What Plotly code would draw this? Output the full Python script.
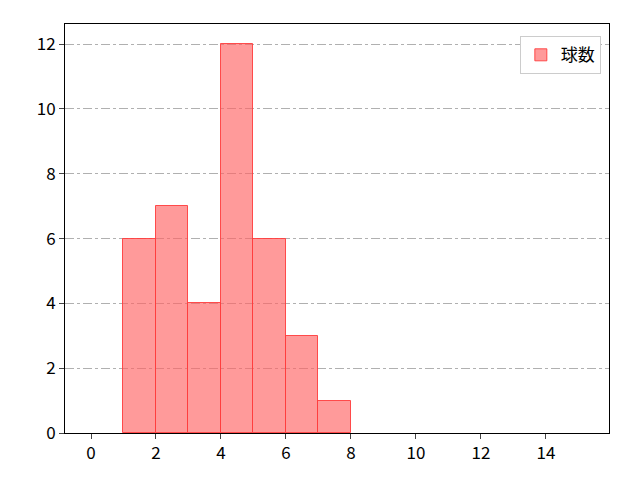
import plotly.graph_objects as go

bin_left = [1, 2, 3, 4, 5, 6, 7]
counts = [6, 7, 4, 12, 6, 3, 1]
xticks = [0, 2, 4, 6, 8, 10, 12, 14]
yticks = [0, 2, 4, 6, 8, 10, 12]

fig = go.Figure()
fig.add_trace(go.Bar(
    x=[b + 0.5 for b in bin_left], y=counts, width=1,
    name="球数", showlegend=True,
    marker=dict(color="rgba(255,100,100,0.65)", line=dict(color="rgba(255,60,60,0.9)", width=1)),
))
fig.update_layout(
    width=640, height=480, paper_bgcolor="white", plot_bgcolor="white",
    margin=dict(l=57, r=39, t=16, b=55),
    font=dict(family="Noto Sans CJK JP", size=17, color="black"),
    bargap=0,
    legend=dict(x=0.985, y=0.97, xanchor="right", yanchor="top",
                bordercolor="#cccccc", borderwidth=1, font=dict(size=17)),
    xaxis=dict(range=[-0.8, 15.94], tickvals=xticks, showgrid=False, zeroline=False,
               showline=True, linecolor="black", mirror=True, ticks="outside", ticklen=5),
    yaxis=dict(range=[0, 12.62], tickvals=yticks, showgrid=True, gridcolor="#b0b0b0",
               griddash="dashdot", zeroline=False,
               showline=True, linecolor="black", mirror=True, ticks="outside", ticklen=5),
)
fig.write_html("out.html")
